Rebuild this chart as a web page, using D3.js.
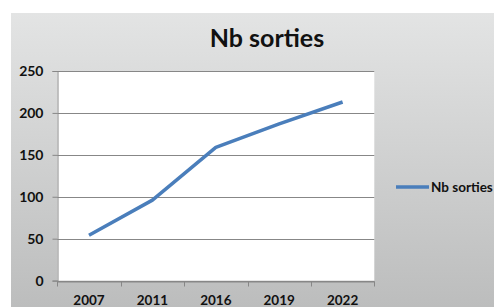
<!DOCTYPE html>
<html>
<head>
<meta charset="utf-8">
<script src="https://cdn.jsdelivr.net/npm/d3@7"></script>
<style>
  html, body { margin: 0; padding: 0; background: #fff; overflow: hidden; }
  text { font-family: Lato, "Open Sans", sans-serif; font-weight: bold; fill: #111; }
</style>
</head>
<body>
<div id="chart"></div>
<script>
// donnees
const years = ['2007', '2011', '2016', '2019', '2022'];
const sorties = [54, 96, 159, 187, 213];
const yTicks = [0, 50, 100, 150, 200, 250];
const seriesName = 'Nb sorties';
const title = 'Nb sorties';

const W = 494, H = 307;
const plot = { left: 57.3, right: 374.3, top: 71, bottom: 280.6 };

const svg = d3.select('#chart').append('svg')
    .attr('width', W)
    .attr('height', H);

const grad = svg.append('defs').append('linearGradient')
    .attr('id', 'bg')
    .attr('x1', 0).attr('y1', 0).attr('x2', 0).attr('y2', 1);
grad.append('stop').attr('offset', '0%').attr('stop-color', '#e3e4e4');
grad.append('stop').attr('offset', '100%').attr('stop-color', '#bcbdbd');

svg.append('rect')
    .attr('x', 11).attr('y', 13)
    .attr('width', W - 11).attr('height', H - 13)
    .attr('fill', 'url(#bg)');

const x = d3.scaleBand()
    .domain(years)
    .range([plot.left, plot.right])
    .padding(0);

const y = d3.scaleLinear()
    .domain([0, 250])
    .range([plot.bottom, plot.top]);

svg.append('rect')
    .attr('x', plot.left).attr('y', plot.top)
    .attr('width', plot.right - plot.left)
    .attr('height', plot.bottom - plot.top)
    .attr('fill', '#fff');

// lignes de grille
svg.append('g')
  .selectAll('line')
  .data(yTicks)
  .enter()
  .append('line')
    .attr('x1', plot.left)
    .attr('x2', plot.right)
    .attr('y1', d => Math.round(y(d)) + 0.5)
    .attr('y2', d => Math.round(y(d)) + 0.5)
    .attr('stroke', '#878787')
    .attr('stroke-width', 1);

// axe Y
const yAxis = svg.append('g')
    .attr('transform', `translate(${Math.round(plot.left) + 0.5},0)`)
    .call(d3.axisLeft(y).tickValues(yTicks).tickSize(5).tickPadding(9));
yAxis.selectAll('text').style('font-size', '14px');

// axe X
const xAxis = svg.append('g')
    .attr('transform', `translate(0,${Math.round(plot.bottom) + 0.5})`)
    .call(d3.axisBottom(x).tickSize(0).tickPadding(14));
xAxis.selectAll('text').style('font-size', '13.5px');
xAxis.selectAll('.tick-mark')
  .data(d3.range(years.length + 1))
  .enter()
  .append('line')
    .attr('x1', i => Math.round(plot.left + i * x.bandwidth()) + 0.5)
    .attr('x2', i => Math.round(plot.left + i * x.bandwidth()) + 0.5)
    .attr('y1', 0)
    .attr('y2', 5)
    .attr('stroke', '#878787');

svg.selectAll('.domain').attr('stroke', '#878787');
svg.selectAll('.tick line').attr('stroke', '#878787');

// courbe
const line = d3.line()
    .x((d, i) => x(years[i]) + x.bandwidth() / 2)
    .y(d => y(d));

svg.append('path')
    .datum(sorties)
    .attr('fill', 'none')
    .attr('stroke', '#4a7ebb')
    .attr('stroke-width', 3.5)
    .attr('stroke-linejoin', 'round')
    .attr('d', line);

// titre
svg.append('text')
    .attr('x', 267)
    .attr('y', 47)
    .attr('text-anchor', 'middle')
    .style('font-size', '25px')
    .text(title);

// legende
svg.append('line')
    .attr('x1', 396).attr('x2', 429)
    .attr('y1', 187).attr('y2', 187)
    .attr('stroke', '#4a7ebb')
    .attr('stroke-width', 3.5);
svg.append('text')
    .attr('x', 431)
    .attr('y', 192)
    .style('font-size', '13.5px')
    .text(seriesName);
</script>
</body>
</html>
